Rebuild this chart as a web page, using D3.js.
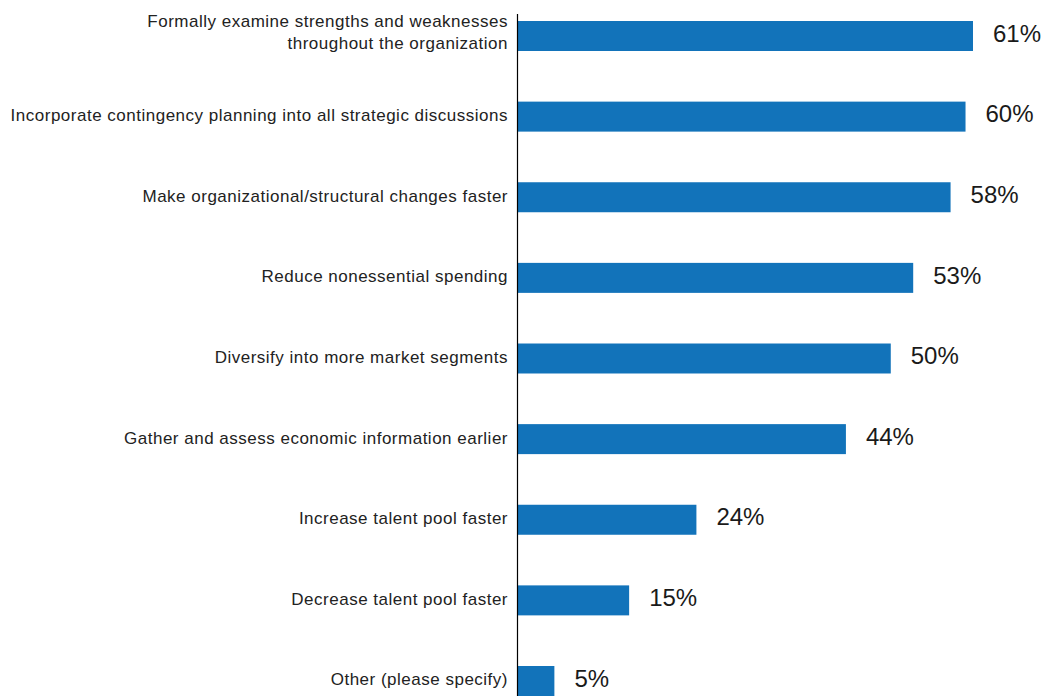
<!DOCTYPE html>
<html>
<head>
<meta charset="utf-8">
<script src="https://cdn.jsdelivr.net/npm/d3@7"></script>
<style>
  html, body { margin: 0; padding: 0; background: #fff; }
  svg { display: block; }
</style>
</head>
<body>
<svg id="chart" width="1046" height="696"></svg>
<script>
// Responses, top to bottom
const categories = [
  "Formally examine strengths and weaknesses\nthroughout the organization",
  "Incorporate contingency planning into all strategic discussions",
  "Make organizational/structural changes faster",
  "Reduce nonessential spending",
  "Diversify into more market segments",
  "Gather and assess economic information earlier",
  "Increase talent pool faster",
  "Decrease talent pool faster",
  "Other (please specify)"
];
const values = [61, 60, 58, 53, 50, 44, 24, 15, 5];
const valueLabels = ["61%", "60%", "58%", "53%", "50%", "44%", "24%", "15%", "5%"];

const svg = d3.select("#chart");
const font = "'Liberation Sans', Arial, sans-serif";
const axisX = 517;

const x = d3.scaleLinear().domain([0, 61]).range([axisX, 973]);
const y = d3.scaleBand()
  .domain(categories)
  .range([21, 696])
  .paddingInner(0.628)
  .paddingOuter(0);

// bars
svg.append("g").selectAll("rect")
  .data(categories)
  .join("rect")
  .attr("x", axisX)
  .attr("y", d => y(d))
  .attr("width", (d, i) => x(values[i]) - axisX)
  .attr("height", y.bandwidth())
  .attr("fill", "#1273ba");

// vertical axis line
svg.append("line")
  .attr("x1", axisX + 0.5).attr("x2", axisX + 0.5)
  .attr("y1", 14).attr("y2", 696)
  .attr("stroke", "#000").attr("stroke-width", 1.2);

// category labels (may span two lines)
const lineH = 22;
const lab = svg.append("g").selectAll("text")
  .data(categories)
  .join("text")
  .attr("x", 508)
  .attr("text-anchor", "end")
  .attr("font-family", font)
  .attr("font-size", 17)
  .attr("letter-spacing", 0.5)
  .attr("fill", "#222");
lab.each(function(d) {
  const lines = d.split("\n");
  const cy = y(d) + y.bandwidth() / 2 - 1.5 - (lines.length - 1) * 2;
  const start = cy - (lines.length - 1) * lineH / 2;
  d3.select(this).selectAll("tspan")
    .data(lines)
    .join("tspan")
    .attr("x", 508)
    .attr("y", (l, j) => start + j * lineH)
    .attr("dy", "0.35em")
    .text(l => l);
});

// value labels
svg.append("g").selectAll("text")
  .data(categories)
  .join("text")
  .attr("x", (d, i) => x(values[i]) + 20)
  .attr("y", d => y(d) + y.bandwidth() / 2 - 1.5)
  .attr("dy", "0.3em")
  .attr("font-family", font)
  .attr("font-size", 24)
  .attr("fill", "#1a1a1a")
  .text((d, i) => valueLabels[i]);
</script>
</body>
</html>
